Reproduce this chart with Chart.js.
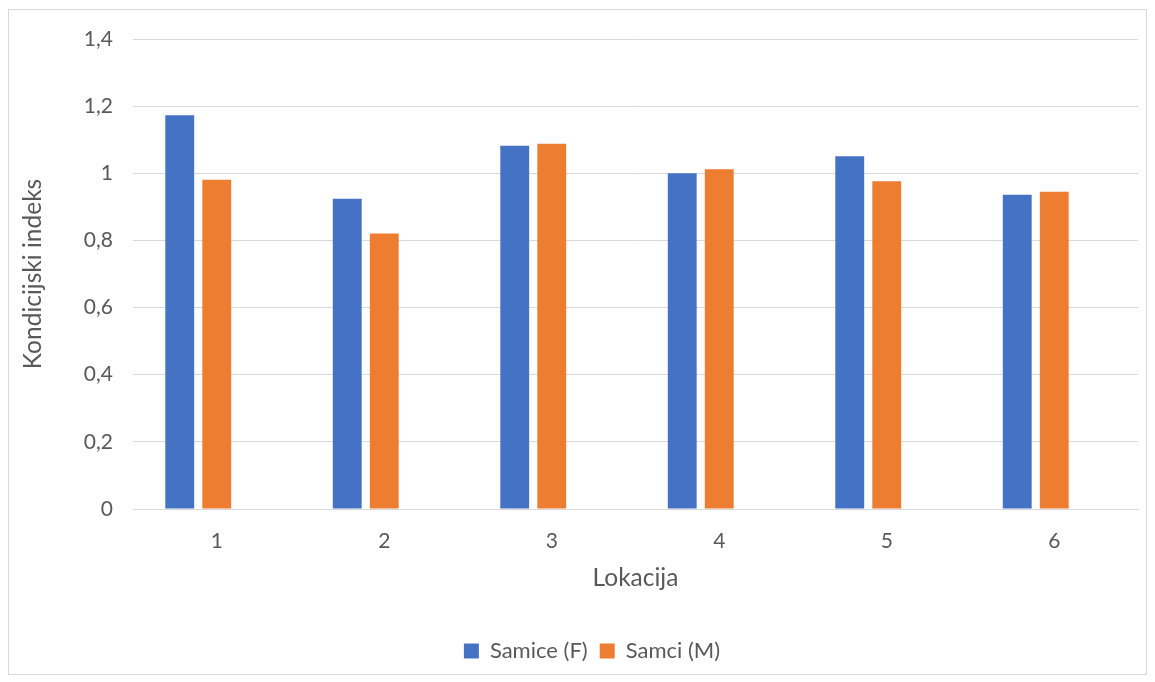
<!DOCTYPE html>
<html>
<head>
<meta charset="utf-8">
<script src="https://cdn.jsdelivr.net/npm/chart.js@4"></script>
<style>
    html, body { margin: 0; padding: 0; background: #ffffff; }
    .frame {
        position: absolute; left: 8px; top: 9px; width: 1139px; height: 666px;
        border: 1px solid #d9d9d9; box-sizing: border-box;
    }
    .wrap { position: absolute; left: 0; top: 0; width: 1155px; height: 682px; }
</style>
</head>
<body>
<div class="frame"></div>
<div class="wrap"><canvas id="chart" width="1155" height="682"></canvas></div>
<script>
// podaci
const lokacije = ['1', '2', '3', '4', '5', '6'];
const samice = [1.173, 0.924, 1.082, 1.0, 1.051, 0.936];
const samci = [0.981, 0.821, 1.088, 1.012, 0.976, 0.945];
const prazno = [null, null, null, null, null, null]; // Excel ostavlja mjesto za treću seriju

const textColor = '#595959';
const fontFamily = 'Lato, "Open Sans", sans-serif';

// legenda je u originalu malo desno od sredine
const pomakLegende = {
    id: 'pomakLegende',
    afterLayout(chart) {
        if (chart.legend) {
            chart.legend.left += 19;
            chart.legend.right += 19;
        }
    }
};

const ctx = document.getElementById('chart');
new Chart(ctx, {
    type: 'bar',
    data: {
        labels: lokacije,
        datasets: [
            { label: 'Samice (F)', data: samice, backgroundColor: '#4472C4' },
            { label: 'Samci (M)', data: samci, backgroundColor: '#ED7D31' },
            { label: '', data: prazno, backgroundColor: 'rgba(0,0,0,0)' }
        ]
    },
    plugins: [pomakLegende],
    options: {
        responsive: false,
        animation: false,
        devicePixelRatio: 1,
        layout: { padding: { left: 8, right: 17, top: 39, bottom: 10 } },
        datasets: {
            bar: { barPercentage: 0.78, categoryPercentage: 0.663 }
        },
        plugins: {
            legend: {
                position: 'bottom',
                labels: {
                    color: textColor,
                    font: { family: fontFamily, size: 22 },
                    boxWidth: 15,
                    boxHeight: 15,
                    padding: 12,
                    filter: item => item.text !== ''
                }
            },
            tooltip: { enabled: false }
        },
        scales: {
            x: {
                grid: { display: false, drawTicks: false },
                border: { display: true, color: '#d9d9d9', width: 1 },
                ticks: { color: textColor, font: { family: fontFamily, size: 21 }, padding: 20 },
                title: {
                    display: true, text: 'Lokacija', color: textColor,
                    font: { family: fontFamily, size: 24.5 }, padding: { top: 0, bottom: 35 }
                },
                afterFit: scale => { scale.height = 119; }
            },
            y: {
                min: 0,
                max: 1.4,
                ticks: {
                    stepSize: 0.2,
                    color: textColor,
                    font: { family: fontFamily, size: 21 },
                    padding: 20,
                    callback: v => Math.round(v * 10) / 10 === 0 ? '0' : (Math.round(v * 10) / 10).toString().replace('.', ',')
                },
                grid: { color: '#d9d9d9', lineWidth: 1, drawTicks: false },
                border: { display: false },
                title: {
                    display: true, text: 'Kondicijski indeks', color: textColor,
                    font: { family: fontFamily, size: 24.5 }, padding: { top: 10, bottom: 0 }
                },
                afterFit: scale => { scale.width = 125; }
            }
        }
    }
});
</script>
</body>
</html>
